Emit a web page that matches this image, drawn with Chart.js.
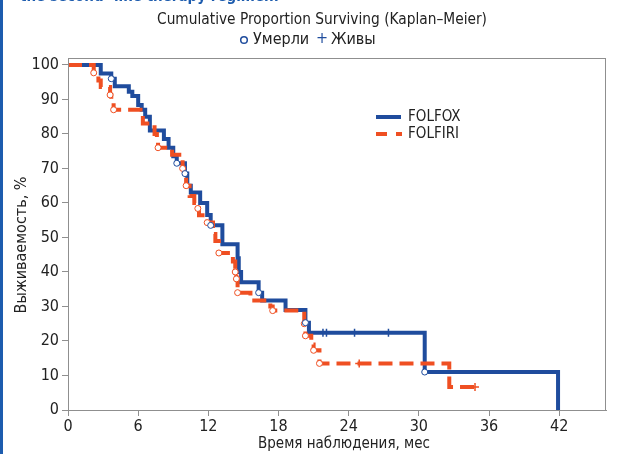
<!DOCTYPE html>
<html>
<head>
<meta charset="utf-8">
<script src="https://cdn.jsdelivr.net/npm/chart.js@4.4.1/dist/chart.umd.min.js"></script>
<style>
  html, body { margin: 0; padding: 0; background: #fff; }
  #wrap { position: relative; width: 630px; height: 454px; overflow: hidden; }
  #frame { position: absolute; left: 0; top: 0; width: 3px; height: 454px; background: #1d5cae; }
  #cut { position: absolute; left: 20px; top: -13px; font: bold 15px 'DejaVu Sans Condensed', Roboto, sans-serif; color: #1d5cae; white-space: nowrap; }
</style>
</head>
<body>
<div id="wrap">
  <canvas id="km" width="630" height="454"></canvas>
  <div id="frame"></div>
  <div id="cut">the second- line therapy regimen.</div>
</div>
<script>
// Kaplan-Meier curves (months, % surviving)
var foxTime = [0, 2.8, 3.7, 4.0, 5.2, 5.5, 6.0, 6.3, 6.6, 7.0, 8.2, 8.6, 9.0, 9.3, 10.0, 10.2, 10.5, 11.3, 11.9, 12.2, 13.2, 14.5, 14.6, 14.8, 16.3, 16.6, 18.6, 20.3, 20.6, 30.5, 41.9];
var foxSurv = [100, 97.5, 96, 93.8, 92.2, 91, 88.4, 87, 85, 81, 78.5, 76, 73.5, 71.5, 68.5, 65, 63, 60, 56.5, 53.5, 48, 44, 40, 37, 34, 31.7, 29, 25.3, 22.4, 11, 0];

var firiTime = [0, 2.2, 2.6, 2.8, 3.6, 3.7, 3.9, 6.2, 6.4, 7.4, 7.6, 7.7, 8.9, 9.8, 9.9, 10.1, 10.4, 10.8, 11.1, 11.2, 11.9, 12.4, 12.6, 12.9, 14.1, 14.3, 14.4, 14.5, 15.6, 17.3, 17.5, 20.2, 20.3, 20.8, 21.0, 21.5, 32.6, 35.0];
var firiSurv = [100, 97.7, 95.5, 93.6, 91.3, 89, 87, 85.5, 83, 80, 77.5, 76, 74, 70, 67.5, 65, 62, 60, 58.4, 56.4, 54.3, 51, 49, 45.5, 43, 40, 38, 34, 31.7, 30, 28.8, 25, 21.5, 19, 17.3, 13.5, 6.7, 6.7];

// o = died, + = alive (censored)
var foxDeadTime = [3.7, 9.3, 10.0, 12.2, 16.3, 20.3, 30.5];
var foxDeadSurv = [96, 71.5, 68.5, 53.5, 34, 25.3, 11];
var foxAliveTime = [21.8, 22.1, 24.5, 27.4];
var foxAliveSurv = [22.4, 22.4, 22.4, 22.4];

var firiDeadTime = [2.2, 3.6, 3.9, 7.7, 9.8, 10.1, 11.1, 11.9, 12.9, 14.3, 14.4, 14.5, 17.5, 20.2, 20.3, 21.0, 21.5];
var firiDeadSurv = [97.7, 91.3, 87, 76, 70, 65, 58.4, 54.3, 45.5, 40, 38, 34, 28.8, 25, 21.5, 17.3, 13.5];
var firiAliveTime = [24.9, 34.8];
var firiAliveSurv = [13.5, 6.7];

var xTicks = [0, 6, 12, 18, 24, 30, 36, 42];
var yTicks = [0, 10, 20, 30, 40, 50, 60, 70, 80, 90, 100];

var FONT = "'DejaVu Sans Condensed', Roboto, sans-serif";
var BLUE = '#1f4c9d';
var RED = '#ef4f22';
var AXIS = '#8f8f8f';

function pts(t, s) {
  return t.map(function (v, i) { return { x: v, y: s[i] }; });
}

// box, titles, legend and axis titles
var decor = {
  id: 'decor',
  afterDraw: function (chart) {
    var ctx = chart.ctx;
    var a = chart.chartArea;
    ctx.save();
    ctx.strokeStyle = AXIS;
    ctx.lineWidth = 1;
    ctx.strokeRect(a.left + 0.5, a.top + 0.5, a.right - a.left - 1, a.bottom - a.top);

    ctx.fillStyle = '#222';
    ctx.textBaseline = 'middle';
    ctx.textAlign = 'center';
    ctx.font = '15.3px ' + FONT;
    ctx.fillText('Cumulative Proportion Surviving (Kaplan\u2013Meier)', 322, 20);

    ctx.font = '16px ' + FONT;
    ctx.strokeStyle = BLUE;
    ctx.lineWidth = 1.5;
    ctx.beginPath();
    ctx.arc(244, 40, 3.3, 0, Math.PI * 2);
    ctx.stroke();
    ctx.textAlign = 'left';
    ctx.fillText('Умерли', 253, 40);
    ctx.fillStyle = BLUE;
    ctx.textAlign = 'center';
    ctx.fillText('+', 322, 39);
    ctx.fillStyle = '#222';
    ctx.textAlign = 'left';
    ctx.fillText('Живы', 331, 40);

    // legend
    ctx.lineWidth = 4;
    ctx.strokeStyle = BLUE;
    ctx.beginPath();
    ctx.moveTo(376, 117);
    ctx.lineTo(401, 117);
    ctx.stroke();
    ctx.strokeStyle = RED;
    ctx.setLineDash([11, 9]);
    ctx.beginPath();
    ctx.moveTo(376, 134);
    ctx.lineTo(402, 134);
    ctx.stroke();
    ctx.setLineDash([]);
    ctx.fillStyle = '#222';
    ctx.font = '15px ' + FONT;
    ctx.fillText('FOLFOX', 408, 117);
    ctx.fillText('FOLFIRI', 408, 134);

    // axis titles
    ctx.textAlign = 'center';
    ctx.fillText('Время наблюдения, мес', 344, 444);
    ctx.font = '16px ' + FONT;
    ctx.translate(22, 245);
    ctx.rotate(-Math.PI / 2);
    ctx.fillText('Выживаемость, %', 0, 0);
    ctx.restore();
  }
};

new Chart(document.getElementById('km').getContext('2d'), {
  type: 'line',
  data: {
    datasets: [
      { label: 'FOLFOX o', type: 'scatter', data: pts(foxDeadTime, foxDeadSurv), pointStyle: 'circle', pointRadius: 3, borderColor: BLUE, backgroundColor: '#fff', borderWidth: 1, order: 0 },
      { label: 'FOLFOX +', type: 'scatter', data: pts(foxAliveTime, foxAliveSurv), pointStyle: 'cross', pointRadius: 4, borderColor: BLUE, borderWidth: 1.5, order: 0 },
      { label: 'FOLFIRI o', type: 'scatter', data: pts(firiDeadTime, firiDeadSurv), pointStyle: 'circle', pointRadius: 3, borderColor: RED, backgroundColor: '#fff', borderWidth: 1, order: 0 },
      { label: 'FOLFIRI +', type: 'scatter', data: pts(firiAliveTime, firiAliveSurv), pointStyle: 'cross', pointRadius: 4, borderColor: RED, borderWidth: 1.5, order: 0 },
      { label: 'FOLFIRI', data: pts(firiTime, firiSurv), stepped: 'before', borderColor: RED, borderWidth: 4, borderDash: [14, 7], pointRadius: 0, fill: false, order: 1 },
      { label: 'FOLFOX', data: pts(foxTime, foxSurv), stepped: 'before', borderColor: BLUE, borderWidth: 4, pointRadius: 0, fill: false, order: 2 }
    ]
  },
  options: {
    responsive: false,
    animation: false,
    layout: { padding: { top: 58, right: 24, left: 0, bottom: 0 } },
    plugins: { legend: { display: false }, tooltip: { enabled: false } },
    scales: {
      x: {
        type: 'linear', min: 0, max: 46,
        afterBuildTicks: function (s) { s.ticks = xTicks.map(function (v) { return { value: v }; }); },
        afterFit: function (s) { s.height = 44; },
        grid: { drawOnChartArea: false, drawTicks: true, tickLength: 6, color: AXIS },
        border: { display: true, color: AXIS },
        ticks: { color: '#222', font: { family: FONT, size: 16 }, padding: 1, maxRotation: 0 }
      },
      y: {
        min: 0, max: 102,
        afterBuildTicks: function (s) { s.ticks = yTicks.map(function (v) { return { value: v }; }); },
        afterFit: function (s) { s.width = 68; },
        grid: { drawOnChartArea: false, drawTicks: true, tickLength: 6, color: AXIS },
        border: { display: true, color: AXIS },
        ticks: { color: '#222', font: { family: FONT, size: 16 }, padding: 3 }
      }
    }
  },
  plugins: [decor]
});
</script>
</body>
</html>
